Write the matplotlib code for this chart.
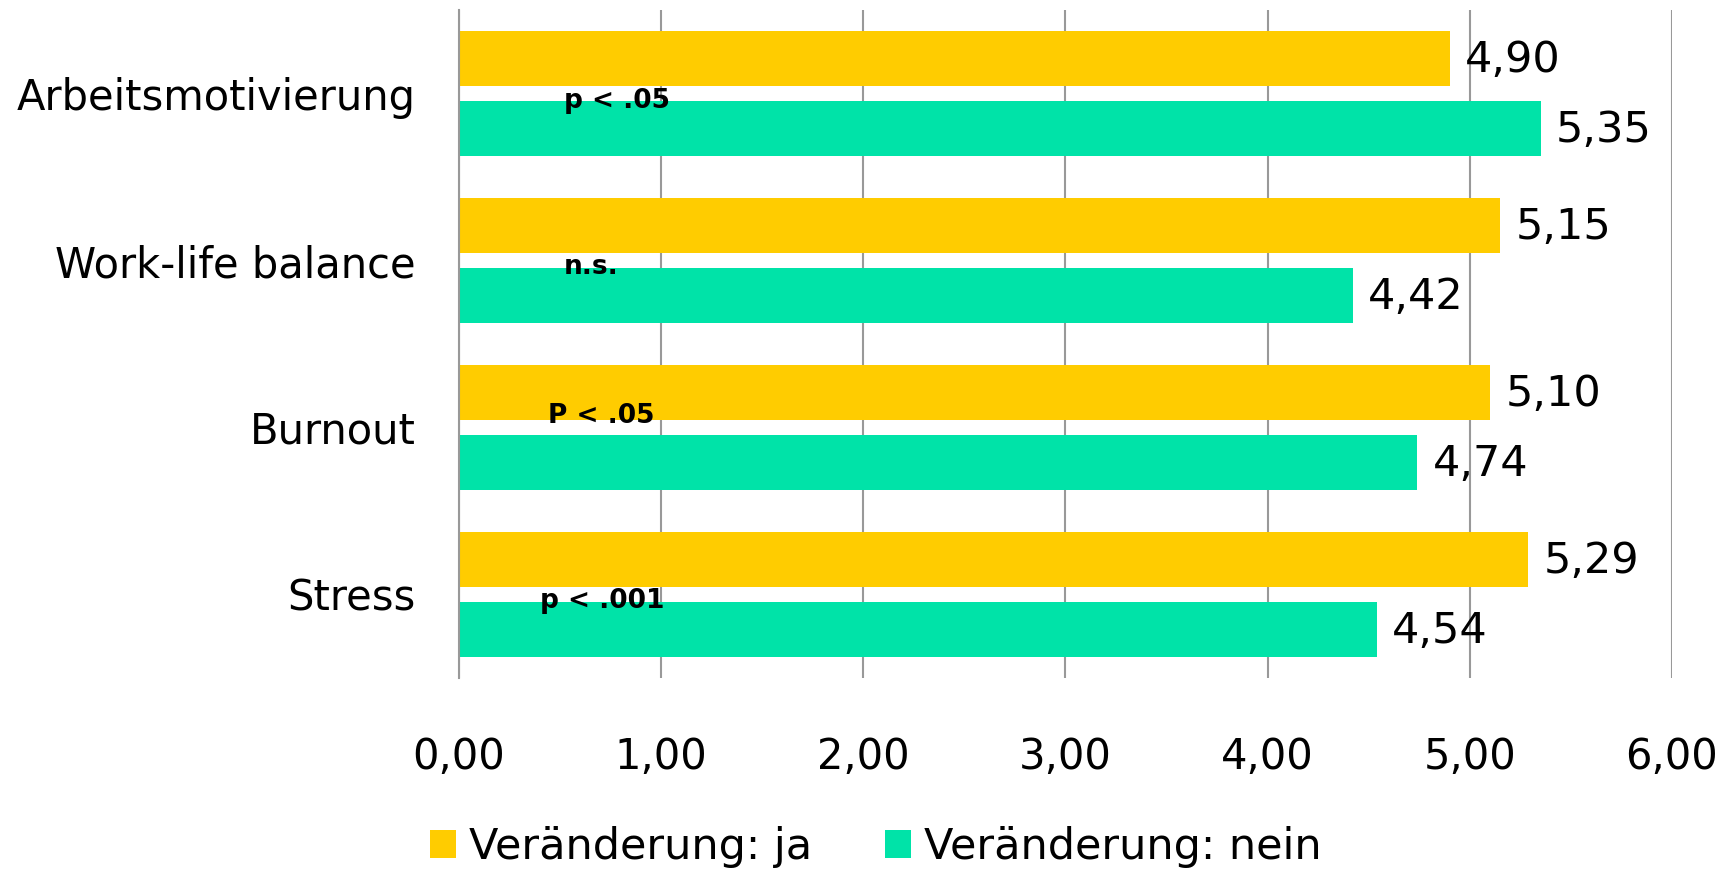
import numpy as np
import matplotlib
matplotlib.use("Agg")
import matplotlib.pyplot as plt

categories = ["Arbeitsmotivierung", "Work-life balance", "Burnout", "Stress"]
ja = [4.90, 5.15, 5.10, 5.29]
nein = [5.35, 4.42, 4.74, 4.54]
sig = ["p < .05", "n.s.", "P < .05", "p < .001"]
sig_x = [0.52, 0.52, 0.44, 0.40]
sig_dy = [0.087, 0.081, -0.027, 0.081]
xticks = [0, 1, 2, 3, 4, 5, 6]

yellow = "#FFCC00"
green = "#00E3A8"

plt.rcParams['font.family'] = ['DejaVu Sans']

fig = plt.figure(figsize=(17.34, 8.72), dpi=100)
ax = fig.add_axes([0.2647, 0.2225, 0.6995, 0.766])

y = np.arange(len(categories))
h = 0.33
off = 0.21
b1 = ax.barh(y - off, ja, height=h, color=yellow, label="Veränderung: ja", zorder=2)
b2 = ax.barh(y + off, nein, height=h, color=green, label="Veränderung: nein", zorder=2)

for bars in (b1, b2):
    for r in bars:
        v = r.get_width()
        ax.annotate(f"{v:.2f}".replace(".", ","), (v, r.get_y() + r.get_height() / 2),
                    xytext=(11, -1), textcoords="offset points",
                    ha="left", va="center", fontsize=31)

for i, s in enumerate(sig):
    ax.text(sig_x[i], i + sig_dy[i], s, fontsize=19, fontweight="bold",
            ha="left", va="baseline", zorder=3)

ax.set_xlim(0, 6)
ax.set_ylim(len(categories) - 0.5, -0.5)
ax.set_yticks(y)
ax.set_yticklabels(categories, fontsize=30)
ax.set_xticks(xticks)
ax.set_xticklabels([f"{t:.2f}".replace(".", ",") for t in xticks], fontsize=30)
ax.tick_params(axis="both", length=0)
ax.tick_params(axis="x", pad=42)
ax.tick_params(axis="y", pad=31)

ax.xaxis.grid(True, color="#999999", linewidth=1.5, zorder=0)
ax.set_axisbelow(True)
for s in ["top", "right", "bottom"]:
    ax.spines[s].set_visible(False)
ax.spines["left"].set_color("#999999")
ax.spines["left"].set_linewidth(1.5)

fig.legend(loc="lower center", bbox_to_anchor=(0.505, -0.04), ncol=2, frameon=False,
           fontsize=31, handlelength=0.6, handleheight=0.6, handletextpad=0.3,
           columnspacing=1.7)

fig.savefig("out.png", dpi=100)
